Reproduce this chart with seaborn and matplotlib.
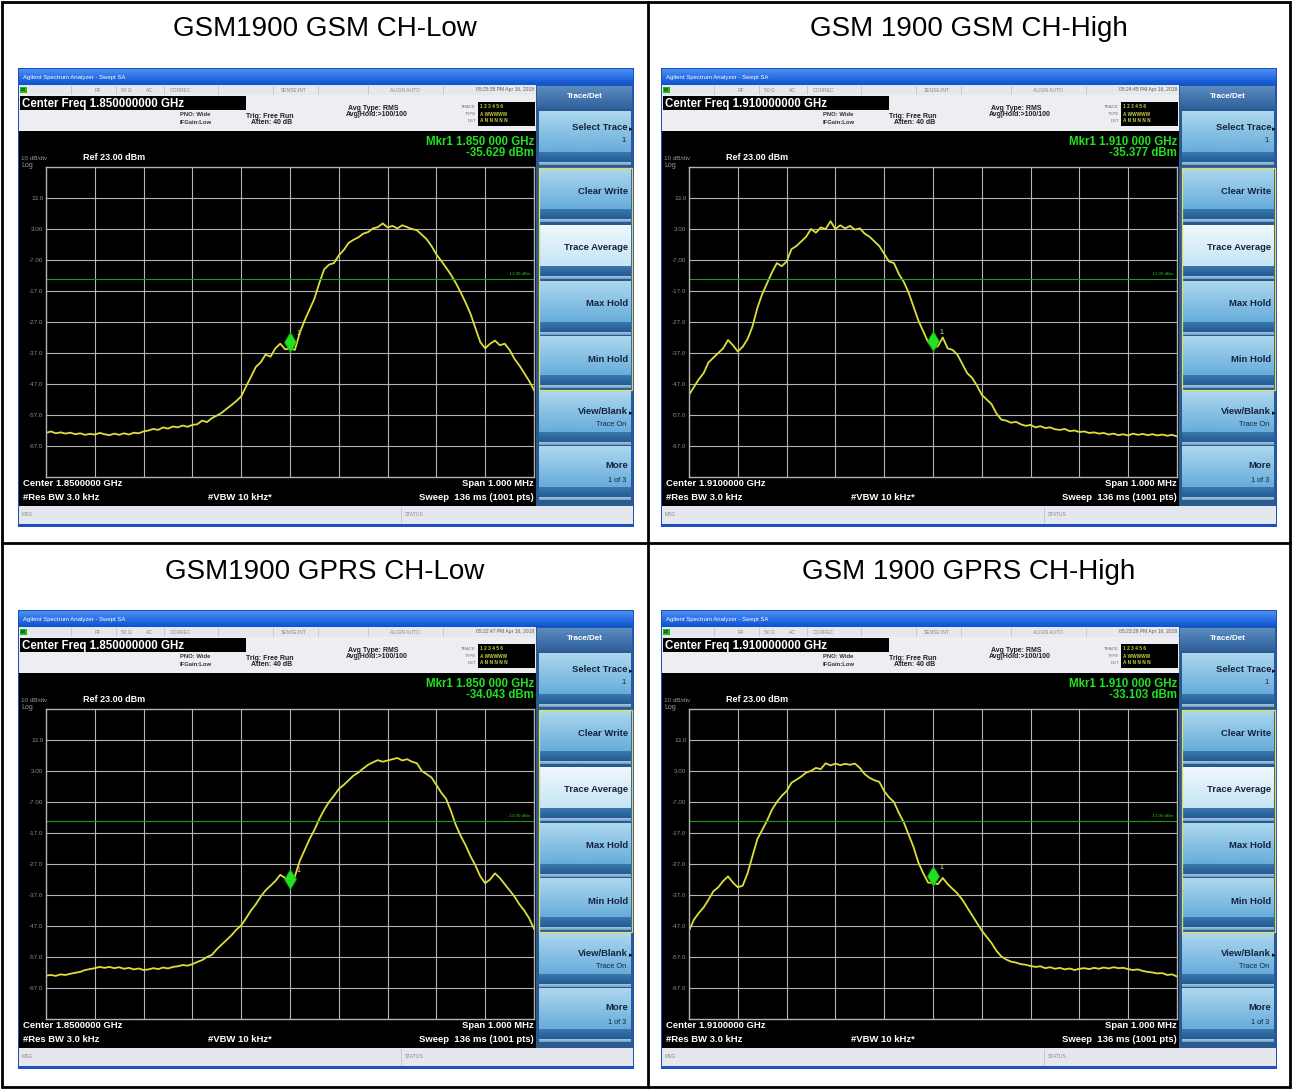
import matplotlib
matplotlib.use('Agg')
import matplotlib.pyplot as plt
import matplotlib.transforms as mtransforms
from matplotlib.colors import to_rgb
import numpy as np
import pandas as pd
import seaborn as sns

plt.rcParams['font.family'] = ['Liberation Sans', 'DejaVu Sans']

W, H = 1292, 1089

# trace offsets from centre frequency (kHz), read every 10 kHz off the screenshots
FREQ_KHZ = np.arange(-500, 501, 10)

GSM_LOW = [
    -62.8, -62.3, -62.9, -62.6, -63.0, -62.7, -63.2, -62.9, -63.4, -63.1,
    -63.3, -62.8, -63.2, -63.5, -63.0, -63.4, -62.9, -63.3, -62.7, -62.9,
    -62.3, -62.0, -61.5, -61.8, -61.0, -61.4, -60.7, -61.0, -60.4, -60.8,
    -60.2, -60.0, -58.8, -59.3, -58.0, -57.2, -56.3, -55.0, -53.8, -52.5,
    -51.0, -47.8, -44.7, -41.5, -40.0, -37.5, -38.2, -35.5, -34.0, -35.8,
    -35.6, -36.0, -30.5, -26.5, -23.0, -19.5, -14.5, -10.0, -8.5, -8.0,
    -5.5, -3.8, -1.5, -0.5, 0.3, 1.5, 2.0, 3.2, 3.6, 4.8,
    3.5, 4.0, 3.2, 4.2, 3.6, 3.0, 2.6, 1.2, -0.3, -2.5,
    -5.2, -7.3, -9.5, -11.8, -14.5, -17.5, -20.8, -24.4, -29.0, -33.5,
    -35.5, -34.0, -33.0, -34.5, -34.0, -36.0, -38.9, -41.0, -43.5, -46.0,
    -49.0]

GSM_HIGH = [
    -50.5, -48.0, -45.5, -43.5, -40.0, -38.5, -37.0, -35.5, -32.8, -34.5,
    -36.5, -35.0, -32.5, -28.5, -22.5, -18.0, -14.5, -11.0, -8.0, -9.0,
    -7.5, -3.5, -2.5, -1.0, 0.5, 3.0, 1.8, 3.5, 3.0, 5.5,
    3.0, 4.2, 3.2, 4.0, 2.8, 3.2, 1.5, 0.5, -1.0, -2.5,
    -5.0, -7.5, -8.0, -11.5, -14.0, -17.5, -22.0, -26.5, -30.0, -33.5,
    -35.4, -34.8, -32.0, -35.5, -36.0, -37.5, -40.5, -43.5, -45.0, -47.5,
    -50.5, -52.0, -53.5, -56.5, -58.5, -58.8, -59.5, -59.2, -60.0, -60.5,
    -60.2, -61.0, -60.6, -61.2, -61.0, -61.6, -61.8, -61.5, -62.2, -62.0,
    -62.5, -62.3, -62.8, -62.6, -63.0, -62.8, -63.3, -63.0, -63.5, -63.2,
    -63.6, -63.0, -63.4, -63.1, -63.5, -63.2, -63.6, -63.3, -63.7, -63.4,
    -63.9]

GPRS_LOW = [
    -63.0, -62.8, -63.1, -62.6, -62.8, -62.4, -62.1, -61.8, -61.2, -60.9,
    -60.6, -60.2, -60.5, -60.2, -60.6, -60.3, -60.8, -60.5, -61.0, -60.7,
    -61.2, -61.0, -60.6, -60.9, -60.4, -60.7, -60.2, -60.0, -59.6, -59.8,
    -59.3, -58.6, -58.0, -57.0, -56.3, -54.5, -53.0, -51.5, -50.0, -48.2,
    -46.8, -44.5, -42.0, -40.0, -37.5, -35.5, -34.0, -32.5, -30.5, -31.5,
    -34.0, -31.0, -26.0, -22.5, -19.0, -16.0, -12.5, -9.5, -7.0, -5.0,
    -2.8, -1.5, 0.0, 1.5, 2.5, 3.8, 5.0, 5.8, 6.5, 6.0,
    6.4, 6.8, 7.2, 6.4, 6.8, 6.0, 5.5, 3.0, 2.0, 0.9,
    -1.5, -4.0, -6.0, -10.0, -14.5, -18.0, -21.0, -24.5, -27.5, -31.0,
    -33.2, -32.0, -30.0, -31.5, -33.5, -35.5, -37.5, -40.0, -42.0, -44.5,
    -47.9]

GPRS_HIGH = [
    -48.5, -45.0, -42.8, -41.0, -38.5, -35.8, -34.5, -32.5, -31.0, -33.0,
    -34.5, -34.0, -30.0, -24.5, -19.0, -16.0, -13.0, -9.5, -7.0, -5.0,
    -3.5, -0.8, 0.2, 1.2, 2.5, 3.0, 4.0, 3.6, 5.5, 4.8,
    5.4, 4.9, 5.3, 5.0, 5.4, 4.0, 2.0, 0.8, 0.0, -0.5,
    -3.5, -5.5, -7.0, -10.5, -13.5, -17.5, -21.5, -26.5, -30.0, -33.0,
    -33.1, -33.5, -31.5, -33.5, -35.0, -36.5, -38.5, -41.0, -43.5, -46.0,
    -48.5, -50.5, -52.5, -55.0, -56.8, -57.8, -58.5, -58.8, -59.3, -59.5,
    -59.9, -60.2, -60.0, -60.6, -60.3, -60.8, -60.5, -61.0, -60.7, -61.2,
    -60.8, -60.6, -60.9, -60.5, -60.8, -60.4, -60.7, -60.3, -60.6, -60.5,
    -60.9, -61.2, -61.0, -61.5, -61.8, -62.0, -62.3, -62.2, -62.8, -62.6,
    -63.3]

TRACES = [GSM_LOW, GSM_HIGH, GPRS_LOW, GPRS_HIGH]
TITLES = ['GSM1900 GSM CH-Low', 'GSM 1900 GSM CH-High',
          'GSM1900 GPRS CH-Low', 'GSM 1900 GPRS CH-High']
CENTER_FREQ = ['1.850000000', '1.910000000', '1.850000000', '1.910000000']
CENTER_SHORT = ['1.8500000', '1.9100000', '1.8500000', '1.9100000']
MKR_FREQ = ['1.850 000', '1.910 000', '1.850 000', '1.910 000']
MKR_DBM = [-35.629, -35.377, -34.043, -33.103]
TIMESTAMPS = ['05:25:35 PM Apr 16, 2018', '05:24:45 PM Apr 16, 2018',
              '05:22:47 PM Apr 16, 2018', '05:23:29 PM Apr 16, 2018']

REF_DBM = 23
LIMIT_DBM = -13
YTICKS = [13, 3, -7, -17, -27, -37, -47, -57, -67]
YTICK_LABELS = ['13.0', '3.00', '-7.00', '-17.0', '-27.0', '-37.0', '-47.0', '-57.0', '-67.0']

KEY_LABELS = ['Select Trace', 'Clear Write', 'Trace Average', 'Max Hold', 'Min Hold', 'View/Blank', 'More']
KEY_SUBS = ['1', '', '', '', '', 'Trace On', '1 of 3']

PANEL_XY = [(18, 68), (661, 68), (18, 610), (661, 610)]
TITLE_XY = [(325, 29), (969, 29), (325, 572), (969, 572)]

TRACE_YELLOW = '#dede3a'
MKR_GREEN = '#22e022'
KEY_NAVY = '#15233f'

fig = plt.figure(figsize=(W / 100, H / 100), dpi=100)
bg = fig.add_axes([0, 0, 1, 1])
bg.set_xlim(0, W)
bg.set_ylim(H, 0)
bg.axis('off')


def rect(x, y, w, h, fc, ec='none', lw=0, z=1):
    bg.add_patch(plt.Rectangle((x, y), w, h, facecolor=fc, edgecolor=ec, linewidth=lw, zorder=z))


def grad(x, y, w, h, c0, c1, z=2):
    t = np.linspace(0, 1, 24)[:, None, None]
    img = (1 - t) * np.array(to_rgb(c0)) + t * np.array(to_rgb(c1))
    bg.imshow(img, extent=(x, x + w, y + h, y), aspect='auto', interpolation='bilinear', zorder=z)


def draw_panel(i):
    px, py = PANEL_XY[i]

    def R(x, y, w, h, fc, **kw):
        rect(px + x, py + y, w, h, fc, **kw)

    def T(x, y, s, **kw):
        kw.setdefault('va', 'center')
        kw.setdefault('zorder', 6)
        bg.text(px + x, py + y, s, **kw)

    # window frame and title bar
    R(0, 0, 616, 459, '#1e4ec4')
    grad(px + 1, py + 1, 614, 16, '#4a90f2', '#0d52d2')
    T(5, 9, 'Agilent Spectrum Analyzer - Swept SA', color='white', fontsize=4.3)

    # status row
    R(1, 17, 517, 10, '#e6e8ec', z=2)
    R(2, 19, 7, 6, '#22b822', z=3)
    T(3, 22, 'LXI', color='black', fontsize=2.5)
    for sx in [53, 98, 146, 200, 255, 300, 350, 425]:
        bg.plot([px + sx, px + sx], [py + 18, py + 26], color='#b8bcc4', lw=0.5, zorder=3)
    for sx, s in [(77, 'RF'), (103, '50 Ω'), (128, 'AC'), (152, 'CORREC'),
                  (263, 'SENSE:INT'), (372, 'ALIGN AUTO')]:
        T(sx, 22, s, color='#8a8a8a', fontsize=3.6)
    T(516, 22, TIMESTAMPS[i], color='#606060', fontsize=3.6, ha='right')

    # display area, settings strip
    R(1, 27, 517, 411, 'black', z=2)
    R(1, 27, 517, 36, '#eceef1', z=2)
    R(2, 28, 226, 14, 'black', z=3)
    T(4, 35.5, 'Center Freq ' + CENTER_FREQ[i] + ' GHz', color='white', fontsize=8.3, fontweight='bold')
    T(162, 47, 'PNO: Wide', color='#303030', fontsize=4.2, fontweight='bold')
    T(162, 54, 'IFGain:Low', color='#303030', fontsize=4.2, fontweight='bold')
    T(228, 48, 'Trig: Free Run', color='#202020', fontsize=5, fontweight='bold')
    T(233, 55, 'Atten: 40 dB', color='#202020', fontsize=5, fontweight='bold')
    T(330, 40, 'Avg Type: RMS', color='#202020', fontsize=5, fontweight='bold')
    T(328, 47, 'Avg|Hold:>100/100', color='#202020', fontsize=5, fontweight='bold')
    R(460, 34, 57, 24, 'black', z=3)
    for ry, lab, body in [(39, 'TRACE', '1 2 3 4 5 6'), (46, 'TYPE', 'A WWWWW'), (53, 'DET', 'A N N N N N')]:
        T(458, ry, lab, color='#707070', fontsize=3.2, ha='right')
        T(462, ry, body, color='#c8d040', fontsize=3.4, fontweight='bold')

    # marker readout and reference
    T(516, 74, 'Mkr1 ' + MKR_FREQ[i] + ' GHz', color=MKR_GREEN, fontsize=8.3, fontweight='bold', ha='right')
    T(516, 85, '%.3f dBm' % MKR_DBM[i], color=MKR_GREEN, fontsize=8.3, fontweight='bold', ha='right')
    T(3, 91, '10 dB/div', color='#9a9a9a', fontsize=4.5)
    T(3, 97.5, 'Log', color='#9a9a9a', fontsize=5)
    T(65, 90, 'Ref %.2f dBm' % REF_DBM, color='white', fontsize=6.5, fontweight='bold')

    # bottom annotations
    T(5, 416, 'Center ' + CENTER_SHORT[i] + ' GHz', color='white', fontsize=6.8, fontweight='bold')
    T(5, 429, '#Res BW 3.0 kHz', color='white', fontsize=6.8, fontweight='bold')
    T(190, 429, '#VBW 10 kHz*', color='white', fontsize=6.8, fontweight='bold')
    T(516, 416, 'Span 1.000 MHz', color='white', fontsize=6.8, fontweight='bold', ha='right')
    T(516, 429, 'Sweep  136 ms (1001 pts)', color='white', fontsize=6.8, fontweight='bold', ha='right')

    # message bar
    R(1, 438, 614, 18, '#e4e7ec', z=2)
    bg.plot([px + 383, px + 383], [py + 439, py + 455], color='#b8bcc4', lw=0.5, zorder=3)
    T(4, 447, 'MSG', color='#8a8a8a', fontsize=3.6)
    T(387, 447, 'STATUS', color='#8a8a8a', fontsize=3.6)

    # softkey column
    R(518, 17, 97, 421, '#2a5a8e', z=2)
    grad(px + 519, py + 18, 95, 23, '#5b8cc2', '#2f619a', z=3)
    T(567, 29, 'Trace/Det', color='white', fontsize=5.8, fontweight='bold', ha='center')
    tops = [43, 100, 157, 213, 268, 323, 378]
    for k, top in enumerate(tops):
        hgt = 52 if k == 4 else 54
        if k == 2:
            grad(px + 521, py + top, 92, hgt - 13, '#eef8fd', '#c6e5f5', z=3)
        else:
            grad(px + 521, py + top, 92, hgt - 13, '#acd7ee', '#68addb', z=3)
        grad(px + 521, py + top + hgt - 13, 92, 10, '#3a77ab', '#215c95', z=3)
        grad(px + 521, py + top + hgt - 3, 92, 3, '#a8c8e0', '#6f9cc4', z=3)
        dy = 16 if k == 0 else 20
        if KEY_SUBS[k]:
            T(610, top + dy, KEY_LABELS[k], color=KEY_NAVY, fontsize=6.8, fontweight='bold', ha='right')
            T(608, top + dy + 14, KEY_SUBS[k], color=KEY_NAVY, fontsize=5.3, ha='right')
        else:
            T(610, top + 23, KEY_LABELS[k], color=KEY_NAVY, fontsize=6.8, fontweight='bold', ha='right')
        if k in (0, 5):
            T(612.5, top + dy + 3, '▸', color='black', fontsize=5, ha='center')
    rect(px + 520.5, py + 99.5, 93, 222, 'none', ec='#e6dc58', lw=0.9, z=4)

    # graticule with the measured trace
    gx, gy, gw, gh = px + 28, py + 99, 488, 310
    ax = fig.add_axes([gx / W, 1 - (gy + gh) / H, gw / W, gh / H])
    ax.set_facecolor('black')
    df = pd.DataFrame({'freq': FREQ_KHZ, 'dbm': TRACES[i]})
    sns.lineplot(data=df, x='freq', y='dbm', ax=ax, color=TRACE_YELLOW, linewidth=1.3)
    ax.axhline(LIMIT_DBM, color='#1f9c1f', lw=0.8, zorder=2.5)
    ax.text(492, LIMIT_DBM + 0.8, '%.2f dBm' % LIMIT_DBM, color='#28c028', fontsize=3.2,
            ha='right', va='bottom')
    off = mtransforms.offset_copy(ax.transData, fig=fig, x=0, y=7, units='dots')
    ax.plot([0], [MKR_DBM[i]], marker='d', ms=10, color=MKR_GREEN, mec='#0fa00f', mew=0.5,
            transform=off, zorder=5)
    lab = mtransforms.offset_copy(ax.transData, fig=fig, x=6, y=14, units='dots')
    ax.text(0, MKR_DBM[i], '1', transform=lab, color='#e6e6a0', fontsize=5, zorder=6)
    ax.set_xlim(-500, 500)
    ax.set_ylim(REF_DBM - 100, REF_DBM)
    ax.set_xticks(range(-400, 401, 100))
    ax.set_xticklabels([])
    ax.set_yticks(YTICKS)
    ax.set_yticklabels(YTICK_LABELS)
    ax.tick_params(length=0, labelsize=4.5, labelcolor='#8c8c8c', pad=2)
    ax.grid(True, color='#b4b4b4', lw=0.8)
    ax.set_xlabel('')
    ax.set_ylabel('')
    for s in ax.spines.values():
        s.set_color('#b4b4b4')
        s.set_linewidth(1.0)


for i in range(4):
    draw_panel(i)
    tx, ty = TITLE_XY[i]
    bg.text(tx, ty, TITLES[i], ha='center', va='center', fontsize=20, color='black',
            family=['Liberation Sans Narrow', 'Liberation Sans'], zorder=6)

# table borders
bg.add_patch(plt.Rectangle((2, 2), W - 4, H - 4, facecolor='none', edgecolor='black', linewidth=2, zorder=7))
bg.plot([648, 648], [2, H - 2], color='black', lw=2, zorder=7)
bg.plot([2, W - 2], [543, 543], color='black', lw=2, zorder=7)

bg.set_xlim(0, W)
bg.set_ylim(H, 0)
fig.savefig('out.png', dpi=100, facecolor='white')
